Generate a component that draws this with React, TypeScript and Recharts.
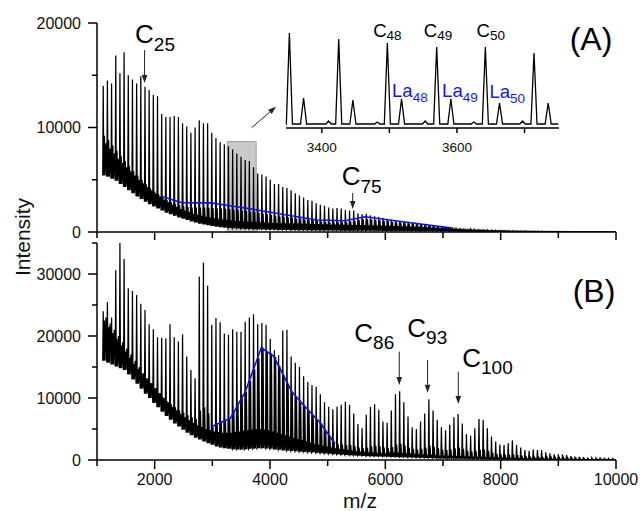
import React from 'react';
import {
  ComposedChart,
  LineChart,
  Line,
  XAxis,
  YAxis,
  ReferenceArea,
  ReferenceLine,
  ReferenceDot,
} from 'recharts';

const FONT = '"Liberation Sans", Arial, Helvetica, sans-serif';

// ---- cluster index -> m/z calibration (peak n sits at about 72.4*n + 22) ----
const FIRST_N = 15;
const MZ_PER_N = 72.4;
const MZ_OFFSET = 22;

// ---- panel (A): intensities of each cluster peak n = 15 .. 137 ----
const peakA = [
  14000, 14500, 14200, 16900, 15200, 17200, 15000, 14600, 14200, 14900,
  13900, 13600, 13100, 13000, 11300, 11000, 11000, 11100, 11000, 10400,
  10100, 9500, 10000, 10700, 10400, 10400, 9500, 9000, 8600, 8400,
  8200, 7900, 7500, 7200, 6900, 6800, 6200, 5600, 5500, 5300,
  5000, 4600, 4600, 4300, 4200, 4000, 3700, 3500, 3300, 3050,
  3000, 2750, 2600, 2500, 2350, 2250, 2300, 2250, 2100, 2050,
  2050, 1800, 1700, 1750, 1600, 1500, 1450, 1370, 1270, 1200,
  1140, 1050, 980, 920, 860, 820, 760, 700, 640, 570,
  540, 480, 420, 380, 350, 300, 280, 260, 240, 220,
  200, 190, 180, 160, 150, 140, 130, 120, 110, 100,
  95, 90, 85, 80, 75, 70, 65, 60, 55, 50,
  50, 45, 45, 40, 40, 35, 35, 30, 30, 30,
  25, 25, 25,
];
const laA = [
  9200, 8800, 8300, 7800, 7300, 6800, 6300, 5800, 5400, 5000,
  4600, 4200, 3900, 3600, 3300, 3050, 2850, 2700, 2550, 2450,
  2400, 2350, 2350, 2350, 2350, 2330, 2300, 2280, 2250, 2220,
  2180, 2150, 2100, 2050, 2000, 1950, 1900, 1830, 1760, 1690,
  1620, 1560, 1500, 1450, 1400, 1350, 1300, 1250, 1200, 1150,
  1100, 1050, 980, 950, 930, 920, 920, 920, 950, 1000,
  1080, 1150, 1220, 1250, 1200, 1150, 1100, 1060, 1020, 980,
  940, 900, 860, 820, 780, 740, 700, 650, 600, 550,
  500, 450, 400, 350, 300, 260, 230, 210, 190, 170,
  160, 150, 140, 130, 120, 115, 110, 105, 100, 95,
  90, 85, 80, 75, 70, 65, 60, 55, 50, 50,
  45, 45, 40, 40, 35, 35, 30, 30, 30, 25,
  25, 20, 20,
];
const bandA = [
  8500, 8000, 7500, 7000, 6600, 6200, 5800, 5400, 5000, 4650,
  4300, 4000, 3700, 3400, 3100, 2850, 2600, 2400, 2200, 2050,
  1900, 1750, 1650, 1550, 1450, 1380, 1320, 1260, 1200, 1150,
  1100, 1070, 1040, 1010, 980, 960, 940, 920, 900, 880,
  860, 850, 840, 830, 820, 810, 800, 790, 780, 770,
  760, 750, 740, 730, 720, 710, 700, 690, 680, 670,
  660, 650, 640, 630, 620, 610, 600, 590, 580, 570,
  560, 550, 540, 520, 500, 480, 460, 440, 420, 400,
  380, 360, 340, 320, 300, 270, 250, 230, 210, 190,
  175, 160, 150, 140, 130, 120, 110, 100, 95, 90,
  85, 80, 75, 70, 65, 60, 55, 50, 48, 46,
  44, 42, 40, 38, 36, 34, 32, 30, 28, 26,
  24, 22, 20,
];
const valleyA = [
  5400, 5300, 5100, 4900, 4600, 4300, 4000, 3700, 3400, 3150,
  2900, 2650, 2450, 2250, 2050, 1850, 1700, 1550, 1400, 1280,
  1160, 1000, 900, 800, 720, 640, 570, 510, 460, 420,
  390, 360, 340, 320, 300, 280, 265, 250, 240, 230,
  220, 210, 200, 190, 185, 180, 175, 170, 165, 160,
  155, 150, 148, 145, 142, 140, 138, 135, 132, 130,
  128, 125, 122, 120, 118, 115, 112, 110, 108, 105,
  102, 100, 98, 95, 92, 90, 88, 85, 82, 80,
  78, 75, 72, 70, 68, 65, 62, 60, 58, 55,
  52, 50, 48, 46, 44, 42, 40, 38, 36, 35,
  34, 33, 32, 31, 30, 29, 28, 27, 26, 25,
  24, 23, 22, 21, 20, 20, 19, 18, 18, 17,
  16, 16, 15,
];

// ---- panel (B): intensities of each cluster peak n = 15 .. 137 ----
const peakB = [
  24000, 25500, 23000, 30600, 35000, 32400, 27700, 27300, 26600, 25200,
  24200, 21900, 21100, 19800, 19700, 19600, 21900, 19800, 19100, 20300,
  16700, 14500, 13200, 29600, 31800, 28100, 21800, 22900, 22200, 20400,
  20200, 21100, 20700, 20700, 22300, 23000, 23500, 21900, 22100, 21800,
  19500, 17700, 16900, 20900, 21000, 16700, 15700, 15000, 13500, 12600,
  12100, 11800, 10600, 9300, 8600, 8200, 8600, 8900, 9400, 8900,
  7500, 5800, 5100, 7300, 8600, 9000, 8100, 6200, 6000, 8000,
  10600, 11100, 9300, 7000, 5300, 5000, 6200, 7500, 9800, 8000,
  6500, 5300, 4800, 5700, 6900, 7400, 5900, 4200, 3900, 5100,
  6600, 6500, 5100, 3800, 3000, 2500, 2400, 2700, 3200, 2400,
  2000, 1600, 1500, 1700, 1600, 1600, 1250, 1100, 900, 900,
  900, 800, 650, 550, 500, 450, 400, 350, 300, 280,
  250, 230, 200,
];
const laB = [
  22500, 21500, 20500, 19500, 18500, 17500, 16500, 15500, 14700, 14000,
  13200, 12400, 11600, 10800, 10100, 9500, 9000, 8500, 8000, 7600,
  7200, 6900, 6600, 8000, 8500, 7500, 5400, 5700, 6000, 6300,
  6700, 7800, 8900, 10000, 11000, 12800, 14600, 16400, 18100, 17600,
  17200, 16600, 15200, 13700, 12200, 11000, 10000, 9200, 8600, 7800,
  7100, 6400, 5900, 4600, 3900, 3000, 2500, 2500, 2400, 2400,
  2200, 2000, 1900, 2000, 2200, 2300, 2200, 2000, 1900, 2100,
  2500, 2600, 2300, 2000, 1800, 1700, 1800, 2000, 2300, 2100,
  1900, 1700, 1600, 1700, 1900, 2000, 1800, 1500, 1400, 1500,
  1700, 1700, 1500, 1200, 1000, 900, 850, 850, 900, 800,
  700, 600, 550, 550, 550, 500, 450, 400, 350, 330,
  320, 300, 260, 230, 210, 190, 170, 150, 140, 130,
  120, 110, 100,
];
const bandB = [
  23000, 22000, 21000, 20000, 19000, 18000, 17000, 16000, 15000, 14000,
  13200, 12400, 11600, 10800, 10000, 9300, 8600, 8000, 7400, 6900,
  6400, 6000, 5600, 5300, 5000, 4800, 4600, 4500, 4400, 4400,
  4400, 4500, 4600, 4700, 4800, 4900, 5000, 5000, 4900, 4800,
  4600, 4400, 4200, 4000, 3800, 3600, 3400, 3200, 3000, 2800,
  2600, 2450, 2300, 2150, 2000, 1900, 1800, 1700, 1600, 1500,
  1400, 1350, 1300, 1250, 1200, 1150, 1100, 1060, 1020, 980,
  940, 900, 860, 820, 780, 740, 700, 670, 640, 610,
  580, 560, 540, 520, 500, 480, 460, 440, 420, 400,
  380, 360, 340, 320, 300, 280, 260, 240, 220, 200,
  190, 180, 170, 160, 150, 140, 130, 120, 110, 100,
  95, 90, 85, 80, 75, 70, 65, 60, 55, 50,
  45, 40, 35,
];
const valleyB = [
  16000, 15700, 15400, 15100, 14800, 14500, 13800, 13000, 12300, 11500,
  10700, 10000, 9200, 8500, 7800, 7100, 6500, 5900, 5400, 4900,
  4400, 4000, 3600, 3300, 3000, 2700, 2450, 2200, 2000, 1900,
  1800, 1750, 1700, 1700, 1750, 1800, 1850, 1900, 1900, 1850,
  1800, 1700, 1650, 1550, 1500, 1450, 1400, 1350, 1300, 1250,
  1200, 1150, 1100, 1050, 1000, 950, 900, 850, 800, 760,
  720, 690, 660, 630, 600, 580, 560, 540, 520, 500,
  480, 460, 440, 420, 400, 380, 360, 340, 320, 300,
  290, 280, 270, 260, 250, 240, 230, 220, 210, 200,
  190, 180, 170, 160, 150, 140, 130, 120, 110, 100,
  95, 90, 85, 80, 75, 70, 65, 60, 55, 50,
  48, 46, 44, 42, 40, 38, 36, 34, 32, 30,
  28, 26, 24,
];

// ---- blue envelope traces ----
const blueAMz = [2139, 2470, 2980, 3130, 3710, 4290, 4810, 5300, 5650, 6000, 7160];
const blueAInt = [3380, 2800, 2790, 2650, 2170, 1630, 1150, 1080, 1460, 1200, 380];
const blueBMz = [3010, 3310, 3570, 3850, 4060, 4380, 4610, 4870, 5130];
const blueBInt = [5480, 6720, 11000, 18110, 16770, 11020, 8600, 6020, 2580];

// ---- inset (zoom of 3350-3750 in panel A), arbitrary units ----
const insetCMz = [3352, 3425, 3497, 3570, 3642, 3714];
const insetCInt = [95, 89, 85, 81, 81, 75];
const insetLaMz = [3373, 3446, 3518, 3591, 3663, 3735];
const insetLaInt = [30, 28, 29, 29, 25, 25];
const insetMinorMz = [3410, 3482, 3553, 3625, 3697];
const insetMinorInt = [7, 6, 7, 6, 7];
const INSET_BASE = 4;

// ---- axes ----
const xTicks = [1000, 2000, 3000, 4000, 5000, 6000, 7000, 8000, 9000, 10000];
const yTicksA = [0, 5000, 10000, 15000, 20000];
const yTicksB = [0, 5000, 10000, 15000, 20000, 25000, 30000, 35000];
const insetTicks = [3400, 3500, 3600, 3700];

type Pt = { x: number; y: number };

const clusterMz = (n: number) => MZ_PER_N * n + MZ_OFFSET;

function spectrum(peak: number[], la: number[], band: number[], valley: number[]): Pt[] {
  const pts: Pt[] = [];
  peak.forEach((p, i) => {
    const m = clusterMz(FIRST_N + i);
    const v = valley[i];
    pts.push(
      { x: m - 9, y: v },
      { x: m, y: p },
      { x: m + 9, y: v },
      { x: m + 21, y: la[i] },
      { x: m + 32, y: v },
      { x: m + 47, y: band[i] },
      { x: m + 60, y: v },
    );
  });
  return pts;
}

function zip(xs: number[], ys: number[]): Pt[] {
  return xs.map((x, i) => ({ x, y: ys[i] }));
}

function insetTrace(): Pt[] {
  const pts: Pt[] = [{ x: 3347, y: INSET_BASE }];
  const add = (mz: number[], h: number[], w: number) =>
    mz.forEach((m, i) => pts.push({ x: m - w, y: INSET_BASE }, { x: m, y: h[i] }, { x: m + w, y: INSET_BASE }));
  add(insetCMz, insetCInt, 4.5);
  add(insetLaMz, insetLaInt, 4.5);
  add(insetMinorMz, insetMinorInt, 4);
  pts.push({ x: 3750, y: INSET_BASE });
  return pts.sort((a, b) => a.x - b.x);
}

const specA = spectrum(peakA, laA, bandA, valleyA);
const specB = spectrum(peakB, laB, bandB, valleyB);
const blueA = zip(blueAMz, blueAInt);
const blueB = zip(blueBMz, blueBInt);
const inset = insetTrace();

// ---- tick renderers ----
const makeYTick = (majorEvery: number) => (props: any) => {
  const { x, y, payload } = props;
  const v = payload.value as number;
  const major = v % majorEvery === 0;
  const len = major ? 9 : 5;
  return (
    <g>
      <line x1={x - len} x2={x} y1={y} y2={y} stroke="#000" strokeWidth={1.5} />
      {major && (
        <text x={x - 16} y={y} dy="0.36em" textAnchor="end" fontSize={16} fontFamily={FONT} fill="#111">
          {v}
        </text>
      )}
    </g>
  );
};

const makeXTick = (showLabels: boolean, majorEvery: number, fontSize: number, labelDy: number, majorLen: number, minorLen: number) => (props: any) => {
  const { x, y, payload } = props;
  const v = payload.value as number;
  const major = v % majorEvery === 0;
  const len = major ? majorLen : minorLen;
  return (
    <g>
      <line x1={x} x2={x} y1={y} y2={y + len} stroke="#000" strokeWidth={1.5} />
      {showLabels && major && (
        <text x={x} y={y + labelDy} textAnchor="middle" fontSize={fontSize} fontFamily={FONT} fill="#111">
          {v}
        </text>
      )}
    </g>
  );
};

// ---- annotation shapes ----
const arrowShape = (p: any) => {
  const { x1, y1, x2, y2 } = p;
  if ([x1, y1, x2, y2].some((v) => typeof v !== 'number' || isNaN(v))) return <g />;
  const a = Math.atan2(y2 - y1, x2 - x1);
  const L = 8;
  const W = 2.8;
  const bx = x2 - L * Math.cos(a);
  const by = y2 - L * Math.sin(a);
  const px = -Math.sin(a) * W;
  const py = Math.cos(a) * W;
  return (
    <g>
      <line x1={x1} y1={y1} x2={bx} y2={by} stroke="#222" strokeWidth={1} />
      <polygon points={`${x2},${y2} ${bx + px},${by + py} ${bx - px},${by - py}`} fill="#222" />
    </g>
  );
};

type LabelOpts = { size: number; subSize: number; dy: number; color?: string; anchor?: string };
const subLabel = (main: string, sub: string, o: LabelOpts) => (p: any) => (
  <text
    x={p.cx}
    y={p.cy}
    fontFamily={FONT}
    fontSize={o.size}
    fill={o.color ?? '#000'}
    textAnchor={(o.anchor ?? 'start') as any}
  >
    {main}
    {sub && (
      <tspan fontSize={o.subSize} dy={o.dy}>
        {sub}
      </tspan>
    )}
  </text>
);

const big: LabelOpts = { size: 26, subSize: 19, dy: 8 };
const panelTag: LabelOpts = { size: 32, subSize: 32, dy: 0, anchor: 'middle' };
const insetC: LabelOpts = { size: 18.5, subSize: 13.5, dy: 3 };
const insetLa: LabelOpts = { size: 18.5, subSize: 13.5, dy: 5, color: '#1414ff' };

const axisLine = { stroke: '#000', strokeWidth: 1.5 };

export default function App() {
  return (
    <div style={{ position: 'absolute', left: 0, top: 0, width: 643, height: 511, background: '#fff', overflow: 'hidden' }}>
      {/* Panel A */}
      <div style={{ position: 'absolute', left: 0, top: 0 }}>
        <ComposedChart width={643} height={250} margin={{ top: 23, right: 27, bottom: 17, left: 96 }}>
          <XAxis
            type="number"
            dataKey="x"
            domain={[1000, 10000]}
            ticks={xTicks}
            interval={0}
            tick={makeXTick(false, 2000, 16, 25, 8, 6)}
            tickLine={false}
            tickSize={0}
            tickMargin={0}
            height={1}
            axisLine={axisLine}
            allowDataOverflow
          />
          <YAxis
            type="number"
            domain={[0, 20000]}
            ticks={yTicksA}
            interval={0}
            tick={makeYTick(10000)}
            tickLine={false}
            tickSize={0}
            tickMargin={0}
            width={1}
            axisLine={axisLine}
            allowDataOverflow
          />
          <ReferenceArea x1={3260} x2={3760} y1={0} y2={8650} fill="#8a8a8a" fillOpacity={0.45} stroke="#9c9c9c" strokeWidth={1} />
          <Line data={specA} dataKey="y" type="linear" stroke="#000" strokeWidth={1.25} dot={false} isAnimationActive={false} />
          <Line data={blueA} dataKey="y" type="linear" stroke="#0a0aff" strokeWidth={1.6} dot={false} isAnimationActive={false} />
          <ReferenceLine segment={[{ x: 1825, y: 17416 }, { x: 1825, y: 14258 }]} shape={arrowShape} />
          <ReferenceLine segment={[{ x: 5434, y: 3732 }, { x: 5434, y: 2200 }]} shape={arrowShape} />
          <ReferenceLine segment={[{ x: 3682, y: 9980 }, { x: 4104, y: 11990 }]} shape={arrowShape} />
          <ReferenceDot x={1660} y={18057} shape={subLabel('C', '25', big)} />
          <ReferenceDot x={5243} y={4498} shape={subLabel('C', '75', big)} />
          <ReferenceDot x={9566} y={17416} shape={subLabel('(A)', '', panelTag)} />
        </ComposedChart>
      </div>

      {/* Inset */}
      <div style={{ position: 'absolute', left: 250, top: 0 }}>
        <LineChart width={350} height={170} margin={{ top: 28, right: 41, bottom: 41, left: 36 }}>
          <XAxis
            type="number"
            dataKey="x"
            domain={[3350, 3751]}
            ticks={insetTicks}
            interval={0}
            tick={makeXTick(true, 200, 13.5, 24, 5, 5)}
            tickLine={false}
            tickSize={0}
            tickMargin={0}
            height={1}
            axisLine={axisLine}
          />
          <YAxis type="number" domain={[0, 100]} hide width={0} />
          <Line data={inset} dataKey="y" type="linear" stroke="#000" strokeWidth={1.3} dot={false} isAnimationActive={false} />
          <ReferenceDot x={3476} y={90.7} shape={subLabel('C', '48', insetC)} />
          <ReferenceDot x={3551} y={90.7} shape={subLabel('C', '49', insetC)} />
          <ReferenceDot x={3629} y={90.7} shape={subLabel('C', '50', insetC)} />
          <ReferenceDot x={3504} y={31.3} shape={subLabel('La', '48', insetLa)} />
          <ReferenceDot x={3578} y={31.3} shape={subLabel('La', '49', insetLa)} />
          <ReferenceDot x={3648} y={30} shape={subLabel('La', '50', insetLa)} />
        </LineChart>
      </div>

      {/* Panel B */}
      <div style={{ position: 'absolute', left: 0, top: 230 }}>
        <ComposedChart width={643} height={281} margin={{ top: 13, right: 27, bottom: 50, left: 96 }}>
          <XAxis
            type="number"
            dataKey="x"
            domain={[1000, 10000]}
            ticks={xTicks}
            interval={0}
            tick={makeXTick(true, 2000, 16, 25, 9, 6)}
            tickLine={false}
            tickSize={0}
            tickMargin={0}
            height={1}
            axisLine={axisLine}
            allowDataOverflow
          />
          <YAxis
            type="number"
            domain={[0, 35000]}
            ticks={yTicksB}
            interval={0}
            tick={makeYTick(10000)}
            tickLine={false}
            tickSize={0}
            tickMargin={0}
            width={1}
            axisLine={axisLine}
            allowDataOverflow
          />
          <Line data={specB} dataKey="y" type="linear" stroke="#000" strokeWidth={1.25} dot={false} isAnimationActive={false} />
          <Line data={blueB} dataKey="y" type="linear" stroke="#0a0aff" strokeWidth={1.6} dot={false} isAnimationActive={false} />
          <ReferenceLine segment={[{ x: 6242, y: 17470 }, { x: 6242, y: 12097 }]} shape={arrowShape} />
          <ReferenceLine segment={[{ x: 6733, y: 16129 }, { x: 6733, y: 10855 }]} shape={arrowShape} />
          <ReferenceLine segment={[{ x: 7265, y: 14242 }, { x: 7265, y: 9032 }]} shape={arrowShape} />
          <ReferenceDot x={5462} y={19080} shape={subLabel('C', '86', { ...big, dy: 7 })} />
          <ReferenceDot x={6381} y={19887} shape={subLabel('C', '93', { ...big, dy: 7 })} />
          <ReferenceDot x={7334} y={15048} shape={subLabel('C', '100', { ...big, dy: 7 })} />
          <ReferenceDot x={9618} y={25484} shape={subLabel('(B)', '', panelTag)} />
        </ComposedChart>
      </div>

      {/* Axis titles */}
      <svg width={643} height={511} style={{ position: 'absolute', left: 0, top: 0, pointerEvents: 'none' }}>
        <text x={30} y={237} transform="rotate(-90 30 237)" textAnchor="middle" fontSize={21} fontFamily={FONT} fill="#111">
          Intensity
        </text>
        <text x={360} y={508} textAnchor="middle" fontSize={21} fontFamily={FONT} fill="#111">
          m/z
        </text>
      </svg>
    </div>
  );
}
